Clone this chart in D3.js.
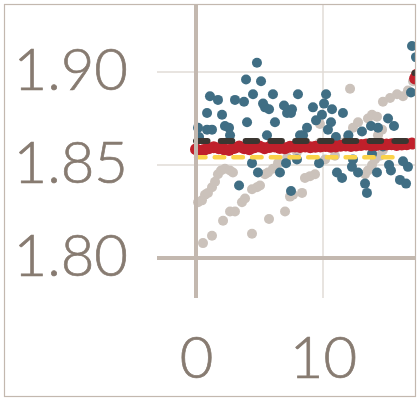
<!DOCTYPE html>
<html>
<head>
<meta charset="utf-8">
<script src="https://cdn.jsdelivr.net/npm/d3@7"></script>
<style>
  html, body { margin: 0; padding: 0; background: #ffffff; }
  svg { display: block; }
</style>
</head>
<body>
<svg id="chart" width="420" height="400"></svg>
<script>
// ---------------- data ----------------
const yTicks = [1.80, 1.85, 1.90];
const xTicks = [0, 10];

// blue scattered observations [x, y]
const blueX = [0.16,0.87,1.26,0.87,1.10,1.73,2.05,2.28,2.60,2.68,3.07,3.78,3.94,4.02,4.49,4.80,5.12,5.28,5.43,5.75,6.06,6.22,5.59,6.93,7.17,7.56,8.03,8.43,8.74,9.21,9.45,9.92,10.08,10.24,10.71,10.63,10.39,11.02,11.57,13.07,13.78,14.33,15.12,15.59,16.93,17.01,17.32,
  3.39,4.41,4.88,6.61,7.09,7.48,7.95,9.69,11.10,11.50,12.28,12.76,13.31,13.46,14.25,15.20,15.35,16.06,16.54,16.69,16.30,13.86,14.72,12.36,0.24,8.19,7.48,12.0];
const blueY = [1.870,1.869,1.869,1.878,1.887,1.885,1.877,1.871,1.870,1.866,1.885,1.884,1.896,1.873,1.888,1.905,1.895,1.883,1.881,1.880,1.888,1.873,1.866,1.882,1.878,1.880,1.888,1.866,1.870,1.881,1.874,1.877,1.883,1.888,1.880,1.873,1.869,1.865,1.878,1.868,1.871,1.870,1.875,1.871,1.889,1.914,1.908,
  1.839,1.851,1.846,1.846,1.851,1.836,1.853,1.851,1.846,1.843,1.849,1.846,1.840,1.835,1.846,1.850,1.847,1.842,1.840,1.849,1.852,1.856,1.860,1.853,1.865,1.866,1.878,1.866];

// grey running estimates [x, y]
const greyX = [0.16,0.47,0.71,0.94,1.26,1.50,1.73,1.97,2.28,2.68,2.91,
  0.55,1.26,2.13,2.68,3.07,3.62,3.86,4.41,4.80,5.04,5.43,5.67,6.06,6.46,7.17,7.95,8.74,9.76,10.94,11.50,11.97,12.36,12.76,13.54,13.86,14.25,14.72,15.28,15.83,16.30,16.69,17.09,
  4.41,5.75,7.01,7.40,7.64,8.35,8.58,8.98,9.37,10.16,10.94,13.31,13.54,13.86,14.09,14.49,14.72,
  12.13,9.76,14.65,14.33];
const greyY = [1.830,1.831,1.834,1.835,1.838,1.841,1.845,1.847,1.848,1.847,1.846,
  1.808,1.812,1.820,1.825,1.825,1.830,1.832,1.837,1.838,1.839,1.845,1.846,1.848,1.851,1.854,1.857,1.860,1.862,1.861,1.862,1.865,1.870,1.873,1.875,1.877,1.876,1.884,1.886,1.888,1.887,1.890,1.895,
  1.813,1.821,1.825,1.833,1.834,1.835,1.843,1.844,1.845,1.853,1.855,1.845,1.847,1.850,1.853,1.855,1.858,
  1.891,1.872,1.869,1.866];

// red smoothed estimate
const redX = [0,0.3,0.6,1.0,1.4,1.8,2.2,2.6,3.0,3.4,3.8,4.2,4.6,5.0,5.4,5.8,6.2,6.6,7.0,7.4,7.8,8.2,8.6,9.0,9.4,9.8,10.2,10.6,11.0,11.4,11.8,12.2,12.6,13.0,13.4,13.8,14.2,14.6,15.0,15.4,15.8,16.2,16.6,17.0,17.25,17.4];
const redY = [1.8585,1.8575,1.8580,1.8590,1.8595,1.8590,1.8585,1.8580,1.8592,1.8600,1.8590,1.8585,1.8595,1.8600,1.8590,1.8597,1.8600,1.8592,1.8590,1.8598,1.8600,1.8597,1.8600,1.8595,1.8598,1.8600,1.8602,1.8598,1.8600,1.8603,1.8605,1.8602,1.8605,1.8608,1.8610,1.8606,1.8608,1.8612,1.8610,1.8612,1.8608,1.8610,1.8612,1.8615,1.8965,1.8985];

// black dashed reference (null = break)
const blackX = [0, 17.0, 17.1, 17.2, 17.5];
const blackY = [1.8629, 1.8629, null, 1.8995, 1.8995];

// yellow dashed reference
const yellowX = [0, 15.7];
const yellowY = [1.8541, 1.8541];

// ---------------- chart ----------------
const svg = d3.select("#chart");
const x = d3.scaleLinear().domain([0, 10]).range([196, 323]);
const y = d3.scaleLinear().domain([1.80, 1.90]).range([258, 72]);

const axisCol = "#c3b8af";
const gridCol = "#e0dbd6";
const textCol = "#877b71";
const font = "Lato, 'Open Sans', sans-serif";

const plotLeft = 157, plotRight = 415, plotTop = 4, plotBottom = 298;

svg.append("clipPath").attr("id", "clip")
  .append("rect").attr("x", plotLeft).attr("y", plotTop)
  .attr("width", plotRight - plotLeft).attr("height", plotBottom - plotTop);

// gridlines
svg.append("g").selectAll("line").data([1.85, 1.90]).join("line")
  .attr("x1", plotLeft).attr("x2", plotRight)
  .attr("y1", d => y(d)).attr("y2", d => y(d))
  .attr("stroke", gridCol).attr("stroke-width", 1.5);
svg.append("g").selectAll("line").data([10]).join("line")
  .attr("x1", d => x(d)).attr("x2", d => x(d))
  .attr("y1", plotTop).attr("y2", plotBottom)
  .attr("stroke", gridCol).attr("stroke-width", 1.5);

// x axis line
svg.append("line").attr("x1", plotLeft).attr("x2", plotRight)
  .attr("y1", y(1.80)).attr("y2", y(1.80))
  .attr("stroke", axisCol).attr("stroke-width", 4);

const plot = svg.append("g").attr("clip-path", "url(#clip)");

const greyPts = greyX.map((d, i) => [d, greyY[i]]);
const bluePts = blueX.map((d, i) => [d, blueY[i]]);
const redPts = redX.map((d, i) => [d, redY[i]]);

plot.append("g").selectAll("circle").data(greyPts).join("circle")
  .attr("cx", d => x(d[0])).attr("cy", d => y(d[1])).attr("r", 5)
  .attr("fill", "#cbc2bb");

plot.append("g").selectAll("circle").data(bluePts).join("circle")
  .attr("cx", d => x(d[0])).attr("cy", d => y(d[1])).attr("r", 5)
  .attr("fill", "#406e84");

const line = d3.line().defined(d => d[1] != null).x(d => x(d[0])).y(d => y(d[1]));

plot.append("path").datum(redPts.filter(d => d[0] <= 17.0)).attr("d", line)
  .attr("fill", "none").attr("stroke", "#c0202b").attr("stroke-width", 10)
  .attr("stroke-linejoin", "round");
plot.append("g").selectAll("circle").data(redPts).join("circle")
  .attr("cx", d => x(d[0])).attr("cy", d => y(d[1])).attr("r", 6)
  .attr("fill", "#c0202b");

plot.append("path").datum(blackX.map((d, i) => [d, blackY[i]])).attr("d", line)
  .attr("fill", "none").attr("stroke", "#3b3631").attr("stroke-width", 6)
  .attr("stroke-linecap", "round").attr("stroke-dasharray", "11.5,13.3");

plot.append("path").datum(yellowX.map((d, i) => [d, yellowY[i]])).attr("d", line)
  .attr("fill", "none").attr("stroke", "#fbd34a").attr("stroke-width", 4.5)
  .attr("stroke-linecap", "round").attr("stroke-dasharray", "9.5,9.2");

// y axis line on top
svg.append("line").attr("x1", x(0)).attr("x2", x(0))
  .attr("y1", plotTop).attr("y2", plotBottom)
  .attr("stroke", axisCol).attr("stroke-width", 4);

// tick labels
const yAxis = svg.append("g").attr("transform", `translate(${x(0)},0)`)
  .call(d3.axisLeft(y).tickValues(yTicks).tickFormat(d3.format(".2f")).tickSize(0).tickPadding(68));
yAxis.select(".domain").remove();
yAxis.selectAll("text").attr("dy", null).attr("y", 17)
  .attr("font-family", font).attr("font-size", 58).attr("font-weight", 300)
  .attr("fill", textCol).attr("stroke", textCol).attr("stroke-width", 0.7);

const xAxis = svg.append("g").attr("transform", `translate(0,378)`)
  .call(d3.axisBottom(x).tickValues(xTicks).tickFormat(d3.format("d")).tickSize(0).tickPadding(0));
xAxis.select(".domain").remove();
xAxis.selectAll("text").attr("dy", null).attr("y", 0)
  .attr("font-family", font).attr("font-size", 58).attr("font-weight", 300)
  .attr("fill", textCol).attr("stroke", textCol).attr("stroke-width", 0.7);

// outer frame
svg.append("rect").attr("x", 4.5).attr("y", 4.5).attr("width", 411).attr("height", 392)
  .attr("fill", "none").attr("stroke", "#c3b8af").attr("stroke-width", 1.2);
</script>
</body>
</html>
